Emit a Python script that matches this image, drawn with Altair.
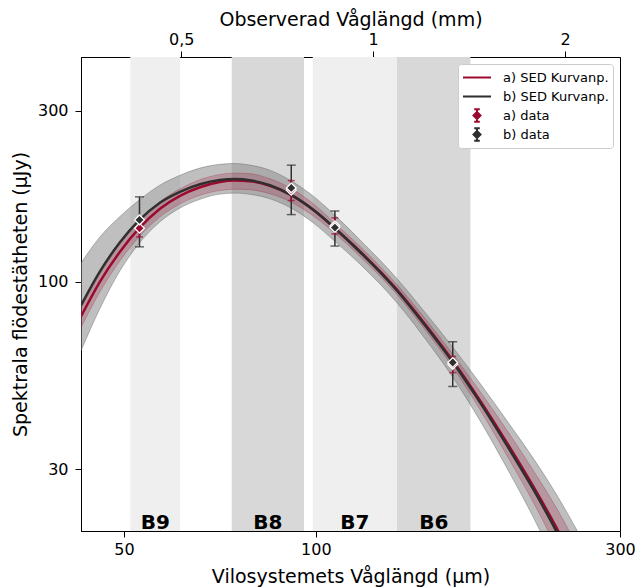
import altair as alt
import pandas as pd

one_plus_z = 8.13

# axis ranges
x_min_um, x_max_um = 42.82, 300.0
y_min, y_max = 20.2, 424.0

# SED curves (rest wavelength in micron, flux density in microJy)
rest_um = [42.82, 45.86, 49.29, 52.80, 56.95, 61.22, 65.79, 70.70, 74.64, 78.78, 84.72, 91.71,
           99.64, 107.1, 117.2, 133.9, 148.2, 163.9, 180.7, 201.4, 220.4, 238.6, 259.2]
sed_a = [80.1, 100.2, 121.4, 141.0, 160.0, 173.8, 183.7, 190.0, 191.7, 191.0, 185.5, 174.3,
         157.7, 141.2, 121.8, 95.4, 76.5, 60.4, 46.9, 34.6, 26.5, 20.6, 15.3]
sed_a_lo = [74.6, 93.9, 114.5, 133.5, 151.9, 165.0, 174.4, 179.8, 181.4, 180.8, 176.1, 166.6,
            151.7, 136.7, 117.9, 92.4, 73.8, 57.9, 44.2, 31.8, 23.9, 18.1, 13.2]
sed_a_hi = [84.4, 105.2, 127.0, 147.5, 167.4, 181.8, 192.8, 199.4, 201.2, 200.5, 194.1, 181.8,
            163.9, 145.8, 125.8, 98.5, 79.3, 63.0, 49.7, 37.6, 29.4, 23.4, 17.8]
sed_b = [86.0, 107.0, 129.0, 148.5, 166.3, 178.3, 187.3, 192.5, 193.6, 192.2, 186.1, 174.3,
         157.7, 141.2, 121.4, 94.8, 75.8, 59.8, 46.3, 34.0, 26.0, 20.1, 14.9]
sed_b_lo = [64.3, 84.4, 107.4, 128.0, 147.1, 160.8, 170.0, 175.8, 176.9, 175.6, 170.6, 160.3,
            145.0, 129.8, 112.3, 87.7, 69.7, 54.3, 41.2, 29.3, 21.7, 16.2, 11.7]
sed_b_hi = [112.9, 133.5, 152.2, 169.0, 186.2, 198.3, 207.7, 212.8, 214.0, 211.8, 205.0, 190.8,
            172.1, 153.6, 131.2, 102.4, 82.4, 65.9, 52.3, 40.0, 31.8, 25.5, 19.7]

# ALMA bands (observed wavelength, mm)
band_names = ["B9", "B8", "B7", "B6"]
band_lo_mm = [0.416, 0.600, 0.804, 1.090]
band_hi_mm = [0.498, 0.779, 1.090, 1.421]
band_shade = ["ljus", "mörk", "ljus", "mörk"]
band_label_flux = 21.3

# photometry (observed wavelength, mm)
obs_mm = [0.430, 0.744, 0.871, 1.333]
data_a = [141.2, 180.2, 143.5, 58.9]
err_a = [7.7, 11.5, 7.4, 3.05]
data_b = [149.0, 182.9, 141.8, 59.6]
err_b = [23.7, 28.8, 15.9, 8.5]

legend_labels = ["a) SED Kurvanp.", "b) SED Kurvanp.", "a) data", "b) data"]

RED = "#9b0a2e"
DARK = "#2f2f2f"
FONT = "DejaVu Sans"

curve_df = pd.DataFrame({"rest": rest_um, "a": sed_a, "a_lo": sed_a_lo, "a_hi": sed_a_hi,
                         "b": sed_b, "b_lo": sed_b_lo, "b_hi": sed_b_hi})
bands_df = pd.DataFrame({"name": band_names, "lo": band_lo_mm, "hi": band_hi_mm,
                         "shade": band_shade,
                         "mid": [(l * h) ** 0.5 for l, h in zip(band_lo_mm, band_hi_mm)],
                         "ly": [band_label_flux] * 4})
pts_df = pd.DataFrame({
    "rest": [m * 1000 / one_plus_z for m in obs_mm],
    "a": data_a, "a_lo": [v - e for v, e in zip(data_a, err_a)], "a_hi": [v + e for v, e in zip(data_a, err_a)],
    "b": data_b, "b_lo": [v - e for v, e in zip(data_b, err_b)], "b_hi": [v + e for v, e in zip(data_b, err_b)],
})
leg_df = pd.DataFrame({"label": legend_labels, "rest": [1000.0] * 4, "flux": [100.0] * 4})

top_scale = alt.Scale(type="log", domain=[x_min_um * one_plus_z / 1000, x_max_um * one_plus_z / 1000], nice=False)
rest_scale = alt.Scale(type="log", domain=[x_min_um, x_max_um], nice=False)
y_scale = alt.Scale(type="log", domain=[y_min, y_max], nice=False)

y_axis = alt.Axis(values=[30, 100, 300], format="~g", title="Spektrala flödestätheten (μJy)",
                  titlePadding=7, labelPadding=7, labelFlush=False)
x_axis = alt.Axis(orient="bottom", values=[50, 100, 300], format="~g", labelFlush=False,
                  title="Vilosystemets Våglängd (μm)", titlePadding=10, labelPadding=4)
top_axis = alt.Axis(orient="top", values=[0.5, 1, 2], labelFlush=False,
                    labelExpr="replace(format(datum.value, '~g'), '.', ',')",
                    title="Observerad Våglängd (mm)", titlePadding=2, labelPadding=4)


def X(field):
    return alt.X(f"{field}:Q", scale=rest_scale, axis=x_axis)


def Y(field):
    return alt.Y(f"{field}:Q", scale=y_scale, axis=y_axis)


bands = alt.Chart(bands_df).mark_rect().encode(
    x=alt.X("lo:Q", scale=top_scale, axis=top_axis),
    x2="hi:Q",
    color=alt.Color("shade:N", scale=alt.Scale(domain=["ljus", "mörk"], range=["#efefef", "#d8d8d8"]), legend=None),
)
band_text = alt.Chart(bands_df).mark_text(font=FONT, fontSize=20, fontWeight="bold", baseline="middle",
                                          color="black").encode(
    x=alt.X("mid:Q", scale=top_scale, axis=top_axis),
    y=Y("ly"),
    text="name:N",
)
top_layer = alt.layer(bands, band_text)

base = alt.Chart(curve_df)
band_b = base.mark_area(fill="#808080", fillOpacity=0.5, stroke="#666666", strokeOpacity=0.45, strokeWidth=1,
                        interpolate="monotone", clip=True).encode(x=X("rest"), y=Y("b_lo"), y2="b_hi")
band_a = base.mark_area(fill=RED, fillOpacity=0.22, stroke=RED, strokeOpacity=0.25, strokeWidth=1,
                        interpolate="monotone", clip=True).encode(x=X("rest"), y=Y("a_lo"), y2="a_hi")
line_a = base.mark_line(color=RED, strokeWidth=2.5, interpolate="monotone", clip=True).encode(x=X("rest"), y=Y("a"))
line_b = base.mark_line(color=DARK, strokeWidth=2.5, interpolate="monotone", clip=True).encode(x=X("rest"), y=Y("b"))

pts = alt.Chart(pts_df)
eb_b = pts.mark_rule(color=DARK, strokeWidth=1.5).encode(x=X("rest"), y=Y("b_lo"), y2="b_hi")
cap_b_lo = pts.mark_tick(orient="horizontal", color=DARK, size=9, thickness=1.5).encode(x=X("rest"), y=Y("b_lo"))
cap_b_hi = pts.mark_tick(orient="horizontal", color=DARK, size=9, thickness=1.5).encode(x=X("rest"), y=Y("b_hi"))
eb_a = pts.mark_rule(color=RED, strokeWidth=1.5).encode(x=X("rest"), y=Y("a_lo"), y2="a_hi")
cap_a_lo = pts.mark_tick(orient="horizontal", color=RED, size=7, thickness=1.5).encode(x=X("rest"), y=Y("a_lo"))
cap_a_hi = pts.mark_tick(orient="horizontal", color=RED, size=7, thickness=1.5).encode(x=X("rest"), y=Y("a_hi"))
dia_a = pts.mark_point(shape="diamond", filled=True, size=95, fill=RED, stroke="white", strokeWidth=1.3,
                       opacity=1).encode(x=X("rest"), y=Y("a"))
dia_b = pts.mark_point(shape="diamond", filled=True, size=95, fill=DARK, stroke="white", strokeWidth=1.3,
                       opacity=1).encode(x=X("rest"), y=Y("b"))

line_sym = "M-1,0L1,0"
eb_sym = "M0,-0.45L0,0.45M-0.2,-0.45L0.2,-0.45M-0.2,0.45L0.2,0.45M0,-0.25L0.25,0L0,0.25L-0.25,0Z"
leg = alt.Legend(title=None, orient="top-right", offset=7, symbolSize=784, symbolStrokeWidth=2,
                 labelFont=FONT, labelFontSize=13, labelColor="black", labelOffset=11,
                 clipHeight=19, rowPadding=0, padding=4, fillColor="white", strokeColor="#cccccc",
                 cornerRadius=3, symbolOpacity=1)
legend_layer = alt.Chart(leg_df).mark_point(filled=True, clip=True, opacity=1).encode(
    x=X("rest"), y=Y("flux"),
    shape=alt.Shape("label:N", scale=alt.Scale(domain=legend_labels, range=[line_sym, line_sym, eb_sym, eb_sym]),
                    legend=leg, sort=legend_labels),
    fill=alt.Fill("label:N", scale=alt.Scale(domain=legend_labels, range=[RED, DARK, RED, DARK]),
                  legend=leg, sort=legend_labels),
    stroke=alt.Stroke("label:N", scale=alt.Scale(domain=legend_labels, range=[RED, DARK, RED, DARK]),
                      legend=leg, sort=legend_labels),
)

main_layer = alt.layer(band_b, band_a, line_a, line_b, eb_b, cap_b_lo, cap_b_hi, eb_a, cap_a_lo, cap_a_hi,
                       dia_a, dia_b, legend_layer)

chart = alt.layer(top_layer, main_layer).resolve_scale(x="independent").properties(
    width=539, height=474,
    padding={"left": 81, "top": 57, "right": 15, "bottom": 57},
    autosize=alt.AutoSizeParams(type="none"),
).configure_axis(
    labelFont=FONT, titleFont=FONT, labelFontSize=16, titleFontSize=19, titleFontWeight="normal",
    labelColor="black", titleColor="black", domainColor="black", tickColor="black",
    tickSize=6, grid=False, domainWidth=1, tickWidth=1,
).configure_view(stroke="black", strokeWidth=1)

chart.save("out.html", embed_options={"renderer": "svg", "actions": False})
